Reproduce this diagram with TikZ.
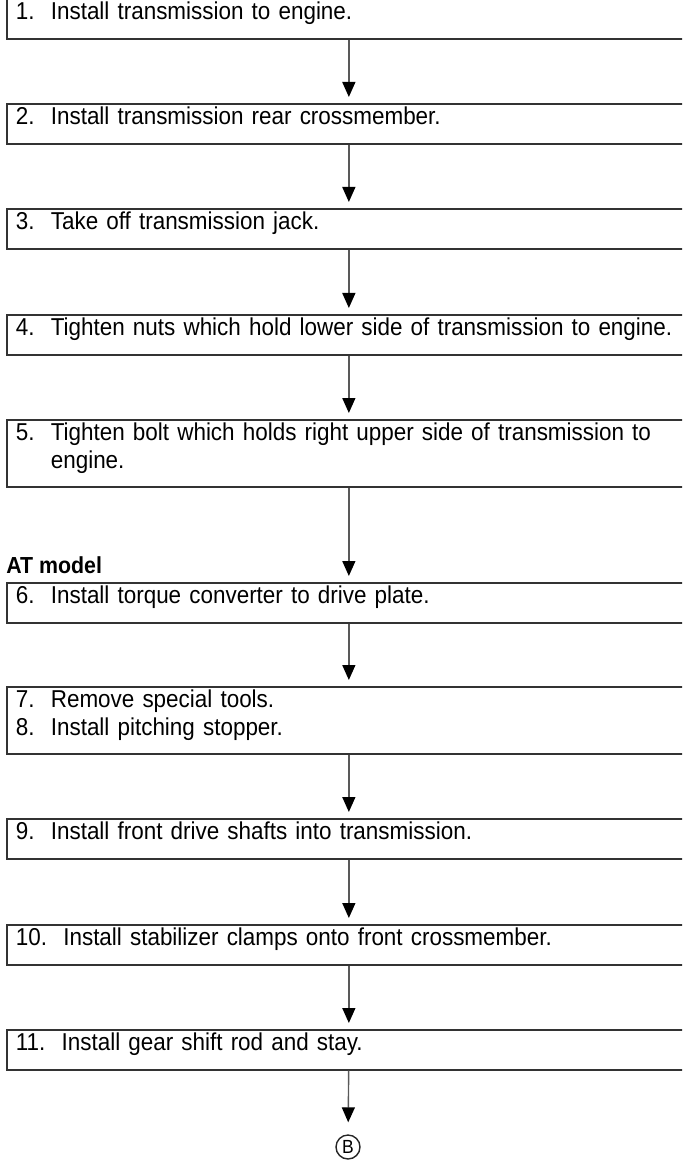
\documentclass[tikz,border=0pt]{standalone}
\usepackage{fontspec}
\setmainfont{Liberation Sans}[FakeStretch=0.92]
\usetikzlibrary{arrows.meta}

\begin{document}
\begin{tikzpicture}[x=0.5pt, y=-0.5pt,
        every node/.style={font=\fontsize{12.2pt}{14pt}\selectfont},
        stepbox/.style={draw=black!80, line width=0.85pt, anchor=north west,
            text width=333pt, inner xsep=4.5pt, inner ysep=0pt, align=left,
            text height=10.5pt, text depth=9.5pt},
        twoline/.style={text depth=23pt},
        flow/.style={draw=black!65, line width=0.7pt, shorten >=3pt,
            -{Triangle[width=6.5pt,length=7.5pt,color=black]}}]
    \useasboundingbox (0,0) rectangle (682,1160);
    \clip (0,0) rectangle (682,1160);
    \node[stepbox] (s1) at (6,-2) {1.\ \ Install transmission to engine.};
    \node[stepbox] (s2) at (6,103) {2.\ \ Install transmission rear crossmember.};
    \node[stepbox] (s3) at (6,208) {3.\ \ Take off transmission jack.};
    \node[stepbox] (s4) at (6,314) {4.\ \ Tighten nuts which hold lower side of transmission to engine.};
    \node[stepbox, twoline] (s5) at (6,419) {5.\ \ Tighten bolt which holds right upper side of transmission to\\\phantom{5.\ \ }engine.};
    \node[font=\fontsize{11.6pt}{14pt}\selectfont\bfseries, anchor=base west, inner xsep=0pt] (atlabel) at (6,573) {AT model};
    \node[stepbox] (s6) at (6,582) {6.\ \ Install torque converter to drive plate.};
    \node[stepbox, twoline] (s7) at (6,686) {7.\ \ Remove special tools.\\8.\ \ Install pitching stopper.};
    \node[stepbox] (s9) at (6,818) {9.\ \ Install front drive shafts into transmission.};
    \node[stepbox] (s10) at (6,924) {10.\ \ Install stabilizer clamps onto front crossmember.};
    \node[stepbox] (s11) at (6,1029) {11.\ \ Install gear shift rod and stay.};
    \node[draw=black!85, line width=0.7pt, circle, minimum size=12pt, inner sep=0pt,
        font=\fontsize{9.5pt}{9.5pt}\selectfont] (b) at (348,1147) {B};
    \foreach \src/\dst in {s1/s2, s2/s3, s3/s4, s4/s5, s5/s6, s6/s7, s7/s9, s9/s10, s10/s11}
        \draw[flow] (\src) -- (\dst);
    \draw[flow, shorten >=6pt] (s11) -- (b);
\end{tikzpicture}
\end{document}
